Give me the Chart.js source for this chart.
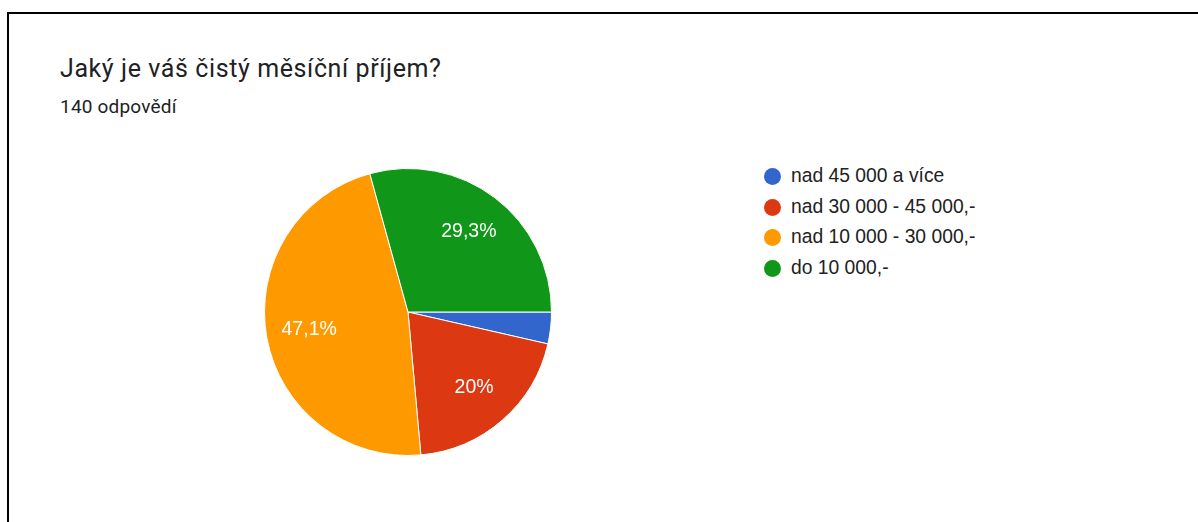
<!DOCTYPE html>
<html><head><meta charset="utf-8">
<script src="https://cdn.jsdelivr.net/npm/chart.js@4/dist/chart.umd.min.js"></script>
<style>
html,body{margin:0;padding:0;background:#fff;width:1198px;height:522px;overflow:hidden;position:relative;}
#frame{position:absolute;left:7px;top:12px;width:1300px;height:600px;border-top:2px solid #000;border-left:2px solid #000;}
#title{position:absolute;left:60px;top:53.5px;font-family:Roboto,sans-serif;font-size:25px;letter-spacing:0.6px;color:#202124;white-space:nowrap;}
#sub{position:absolute;left:60px;top:95px;font-family:Roboto,sans-serif;font-size:19px;letter-spacing:0.2px;color:#202124;white-space:nowrap;}
#wrap{position:absolute;left:264px;top:168px;width:288px;height:288px;}
#legend{position:absolute;left:764px;top:165px;font-family:"Liberation Sans",Arial,sans-serif;font-size:19.3px;color:#222;}
#legend div{height:30.5px;line-height:22px;white-space:nowrap;position:relative;padding-left:27px;}
#legend span{position:absolute;left:0;top:3px;width:17px;height:17px;border-radius:50%;}
</style></head>
<body>
<div id="frame"></div>
<div id="title">Jaký je váš čistý měsíční příjem?</div>
<div id="sub">140 odpovědí</div>
<div id="wrap"><canvas id="c"></canvas></div>
<div id="legend"></div>
<script>
const categories = ["nad 45 000 a více", "nad 30 000 - 45 000,-", "nad 10 000 - 30 000,-", "do 10 000,-"];
const counts = [5, 28, 66, 41];
const percentLabels = ["", "20%", "47,1%", "29,3%"];
const colors = ["#3366cc", "#dc3912", "#ff9900", "#109618"];

const leg = document.getElementById('legend');
categories.forEach((c,i)=>{
  const d=document.createElement('div');
  const s=document.createElement('span'); s.style.background=colors[i];
  d.appendChild(s); d.appendChild(document.createTextNode(c)); leg.appendChild(d);
});

const labelPlugin = {
  id:'pctLabels',
  afterDatasetsDraw(chart){
    const ctx=chart.ctx; const meta=chart.getDatasetMeta(0);
    ctx.save();
    ctx.fillStyle='#fff'; ctx.font='19.5px "Liberation Sans", Arial, sans-serif';
    ctx.textAlign='center'; ctx.textBaseline='middle';
    meta.data.forEach((arc,i)=>{
      if(!percentLabels[i]) return;
      const p=arc.getProps(['x','y','startAngle','endAngle','outerRadius']);
      const a=(p.startAngle+p.endAngle)/2; const r=p.outerRadius*0.7;
      ctx.fillText(percentLabels[i], p.x+Math.cos(a)*r, p.y+Math.sin(a)*r);
    });
    ctx.restore();
  }
};

new Chart(document.getElementById('c'),{
  type:'pie',
  data:{labels:categories,datasets:[{data:counts,backgroundColor:colors,borderColor:'#fff',borderWidth:1}]},
  options:{responsive:true,maintainAspectRatio:false,animation:false,rotation:90,
    layout:{padding:0},
    plugins:{legend:{display:false},tooltip:{enabled:false}}},
  plugins:[labelPlugin]
});
</script>
</body></html>
